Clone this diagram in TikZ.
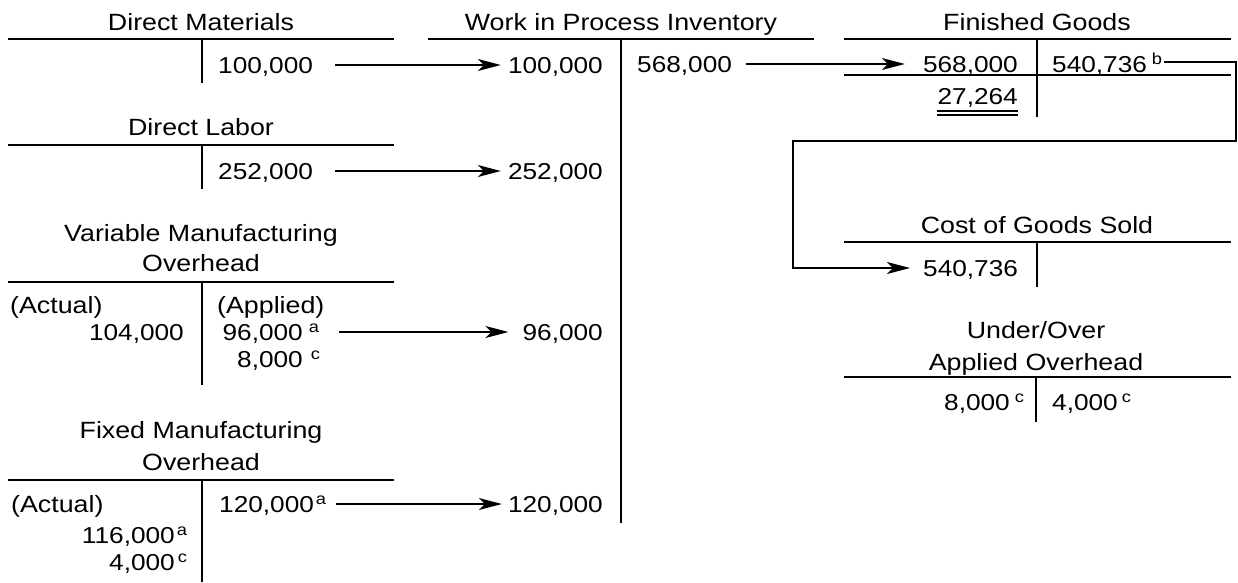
\documentclass[tikz,border=0pt]{standalone}
\usepackage{fontspec}
\setmainfont[FakeStretch=1.14]{Liberation Sans}
\usetikzlibrary{arrows.meta}
\newcommand\supr[2][2pt]{\rlap{\hspace{#1}\raisebox{8pt}{\fontsize{16}{16}\selectfont #2}}}
\tikzset{
  lbl/.style={font=\fontsize{23.5}{26}\selectfont, inner sep=0pt, anchor=base},
  amt/.style={font=\fontsize{23}{26}\selectfont, inner sep=0pt, text height=18pt, text depth=2pt},
  rule/.style={line width=1.5pt},
  dbl/.style={line width=1.1pt},
  arr/.style={line width=1.5pt, -{Stealth[length=23pt,width=12pt,inset=6pt]}},
}
\begin{document}
\begin{tikzpicture}[x=1pt,y=-1pt]
\useasboundingbox[fill=white] (0,0) rectangle (1238,582);

% ---- titles
\node[lbl] (tDM)   at (201,30)  {Direct Materials};
\node[lbl] (tWIP)  at (621,30)  {Work in Process Inventory};
\node[lbl] (tFG)   at (1037,30) {Finished Goods};
\node[lbl] (tDL)   at (201,135) {Direct Labor};
\node[lbl] (tVMO1) at (201,241) {Variable Manufacturing};
\node[lbl] (tVMO2) at (201,271) {Overhead};
\node[lbl] (tFMO1) at (201,438) {Fixed Manufacturing};
\node[lbl] (tFMO2) at (201,470) {Overhead};
\node[lbl] (tCOGS) at (1037,233) {Cost of Goods Sold};
\node[lbl] (tUO1)  at (1036,338) {Under/Over};
\node[lbl] (tUO2)  at (1036,370) {Applied Overhead};

% ---- T-account rules
\draw[rule] (8,39) -- (394,39) (202,39) -- (202,83);          % DM
\draw[rule] (8,145) -- (394,145) (202,145) -- (202,189);      % DL
\draw[rule] (8,282) -- (394,282) (202,282) -- (202,385);      % VMO
\draw[rule] (8,480) -- (394,480) (202,480) -- (202,582);      % FMO
\draw[rule] (428,39) -- (814,39) (621,39) -- (621,523);       % WIP
\draw[rule] (844,39) -- (1231,39) (1037,39) -- (1037,117);    % FG
\draw[rule] (844,75) -- (1231,75);
\draw[rule] (844,242) -- (1231,242) (1037,242) -- (1037,287); % COGS
\draw[rule] (844,377) -- (1231,377) (1036,377) -- (1036,422); % U/O

% ---- Direct Materials
\node[amt, anchor=base west] (dmC) at (218,73) {100,000};
\node[amt, anchor=base east] (wipDM) at (603,73) {100,000};
% ---- Direct Labor
\node[amt, anchor=base west] (dlC) at (218,179) {252,000};
\node[amt, anchor=base east] (wipDL) at (603,179) {252,000};
% ---- Variable MOH
\node[lbl, anchor=base west] (vAct) at (10,313) {(Actual)};
\node[amt, anchor=base east] (vDr) at (184,340) {104,000};
\node[lbl, anchor=base west] (vApp) at (217,313) {(Applied)};
\node[amt, anchor=base east] (vCr) at (303,340) {96,000\supr[6pt]{a}};
\node[amt, anchor=base east] (vCr2) at (303,367) {8,000\supr[8pt]{c}};
\node[amt, anchor=base east] (wipV) at (603,340) {96,000};
% ---- Fixed MOH
\node[lbl, anchor=base west] (fAct) at (11,512) {(Actual)};
\node[amt, anchor=base east] (fDr) at (175,543) {116,000\supr[2pt]{a}};
\node[amt, anchor=base east] (fDr2) at (175,570) {4,000\supr[3pt]{c}};
\node[amt, anchor=base west] (fCr) at (219,512) {120,000\supr[2pt]{a}};
\node[amt, anchor=base east] (wipF) at (603,512) {120,000};
% ---- WIP credit
\node[amt, anchor=base west] (wipCr) at (637,72) {568,000};
% ---- Finished Goods
\node[amt, anchor=base east] (fgDr) at (1018,72) {568,000};
\node[amt, anchor=base west] (fgCr) at (1052,72) {540,736\supr[5pt]{b}};
\node[amt, anchor=base east] (fgBal) at (1018,104) {27,264};
\draw[dbl] ([yshift=-7pt]fgBal.base west) -- ([yshift=-7pt]fgBal.base east);
\draw[dbl] ([yshift=-11pt]fgBal.base west) -- ([yshift=-11pt]fgBal.base east);
% ---- COGS
\node[amt, anchor=base west] (cogsDr) at (923,276) {540,736};
% ---- Under/Over
\node[amt, anchor=base east] (uoDr) at (1010,410) {8,000\supr[5pt]{c}};
\node[amt, anchor=base west] (uoCr) at (1052,410) {4,000\supr[4pt]{c}};

% ---- connectors
\draw[arr] ([xshift=22pt]dmC.east) -- ([xshift=-7pt]wipDM.west);
\draw[arr] ([xshift=22pt]dlC.east) -- ([xshift=-7pt]wipDL.west);
\draw[arr] ([xshift=36pt]vCr.east) -- ([xshift=-14pt]wipV.west);
\draw[arr] ([xshift=22pt]fCr.east) -- ([xshift=-6pt]wipF.west);
\draw[arr] ([xshift=14pt]wipCr.east) -- ([xshift=-18pt]fgDr.west);
\coordinate (cR) at (1236,141);
\coordinate (cL) at (793,141);
\draw[arr, shorten >=13pt] ([xshift=17pt,yshift=2pt]fgCr.east) -| (cR) -- (cL) |- (cogsDr.west);
\end{tikzpicture}
\end{document}
